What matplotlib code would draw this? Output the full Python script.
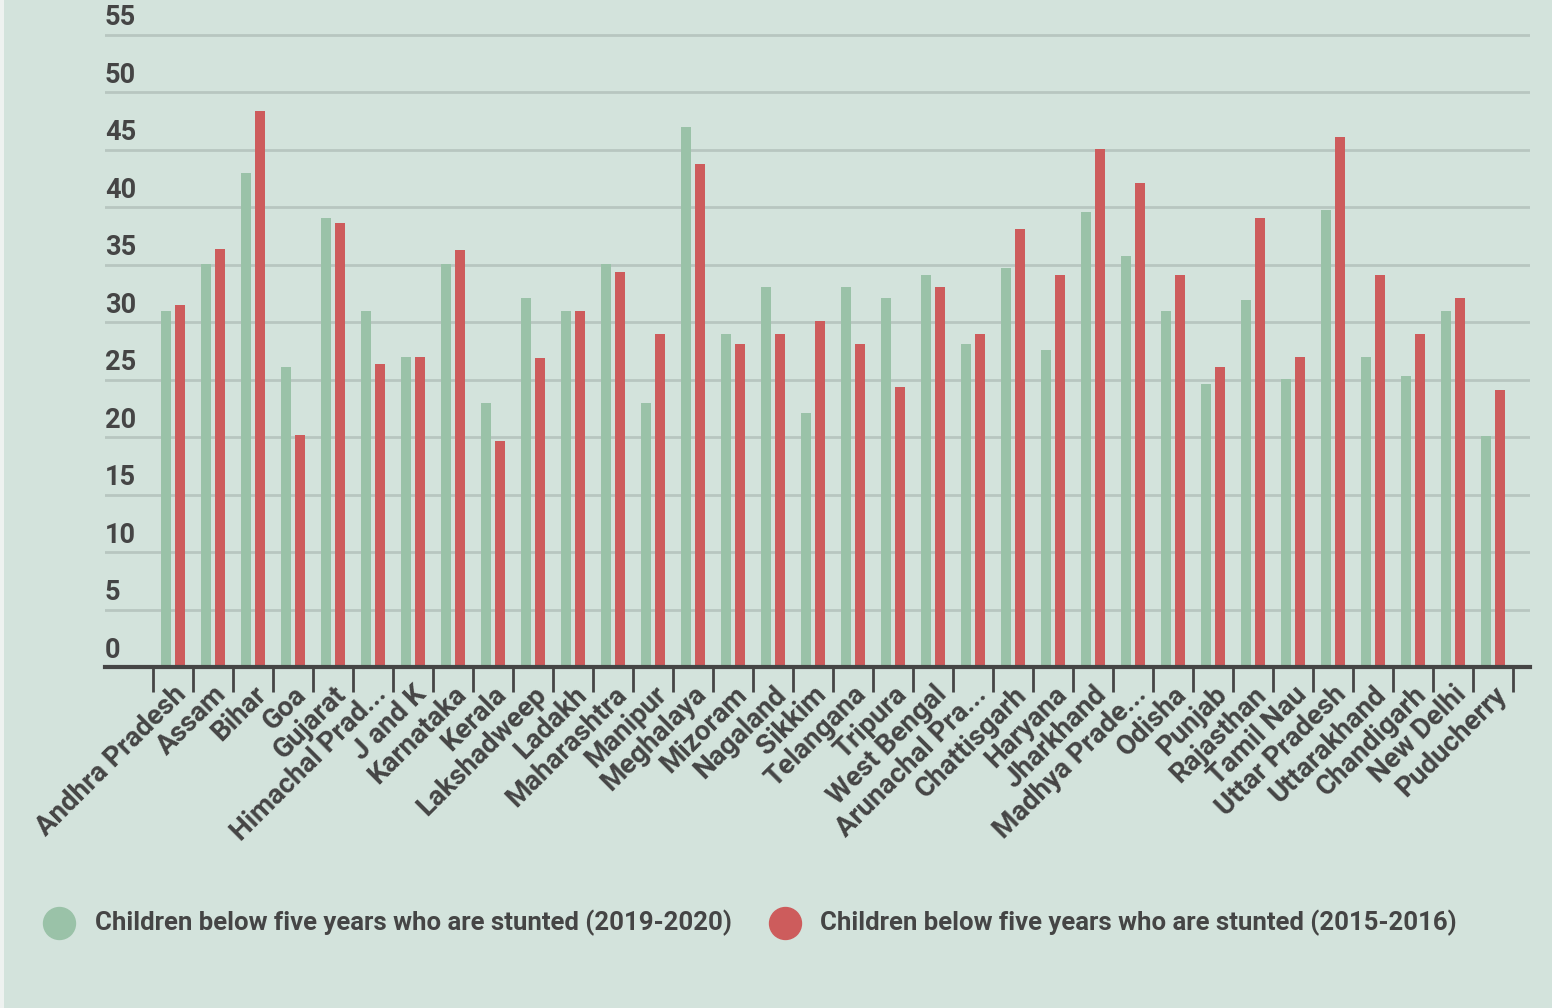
import matplotlib
matplotlib.use("Agg")
from matplotlib import pyplot as plt
from matplotlib.lines import Line2D
from matplotlib.patches import Rectangle
import numpy as np

# data
states = ["Andhra Pradesh", "Assam", "Bihar", "Goa", "Gujarat", "Himachal Prad...",
          "J and K", "Karnataka", "Kerala", "Lakshadweep", "Ladakh", "Maharashtra",
          "Manipur", "Meghalaya", "Mizoram", "Nagaland", "Sikkim", "Telangana",
          "Tripura", "West Bengal", "Arunachal Pra...", "Chattisgarh", "Haryana",
          "Jharkhand", "Madhya Prade...", "Odisha", "Punjab", "Rajasthan",
          "Tamil Nau", "Uttar Pradesh", "Uttarakhand", "Chandigarh", "New Delhi",
          "Puducherry"]
stunted_2019 = [31.0, 35.1, 43.0, 26.1, 39.1, 31.0, 27.0, 35.1, 23.0, 32.1, 31.0,
                35.1, 23.0, 47.0, 29.0, 33.1, 22.1, 33.1, 32.1, 34.1, 28.1, 34.7,
                27.6, 39.6, 35.8, 31.0, 24.6, 31.9, 25.1, 39.8, 27.0, 25.3, 31.0,
                20.1]
stunted_2015 = [31.5, 36.4, 48.4, 20.2, 38.6, 26.4, 27.0, 36.3, 19.7, 26.9, 31.0,
                34.4, 29.0, 43.8, 28.1, 29.0, 30.1, 28.1, 24.4, 33.1, 29.0, 38.1,
                34.1, 45.1, 42.1, 34.1, 26.1, 39.1, 27.0, 46.1, 34.1, 29.0, 32.1,
                24.1]
series_names = ["Children below five years who are stunted (2019-2020)",
                "Children below five years who are stunted (2015-2016)"]
yticks = [0, 5, 10, 15, 20, 25, 30, 35, 40, 45, 50, 55]

bg = "#d3e3dc"
green = "#9ac2a8"
red = "#cd5c5c"
dark = "#454545"

plt.rcParams['font.family'] = ['Roboto', 'DejaVu Sans']

fig = plt.figure(figsize=(15.52, 10.08), dpi=100, facecolor=bg)
fig.add_artist(Rectangle((0, 0), 4 / 1552, 1, transform=fig.transFigure,
                         facecolor="#eef2f0", edgecolor="none"))
ax = fig.add_axes([105 / 1552, 1 - 667 / 1008, 1425 / 1552, (667 - 23.4) / 1008])
ax.set_facecolor(bg)

x = np.arange(len(states))
w = 0.25
ax.bar(x - 0.175, stunted_2019, w, color=green, zorder=3)
ax.bar(x + 0.175, stunted_2015, w, color=red, zorder=3)

ax.set_xlim(-1.7, len(states) - 0.075)
ax.set_ylim(0, 56)

for s in ["top", "right", "left"]:
    ax.spines[s].set_visible(False)
ax.spines["bottom"].set_color(dark)
ax.spines["bottom"].set_linewidth(3)
ax.spines["bottom"].set_zorder(4)

# gridlines and y labels sitting above them
ax.set_yticks(yticks)
ax.yaxis.grid(True, color="#b8c6c0", linewidth=2, zorder=1)
ax.tick_params(axis="y", length=0, labelleft=False)
for v in yticks:
    ax.text(0, v + 0.3, str(v), transform=ax.get_yaxis_transform(), ha="left",
            va="bottom", fontsize=19.5, color=dark, fontweight="bold")

# ticks at group edges, labels at group centres
ax.set_xticks(np.arange(len(states) + 1) - 0.5)
ax.set_xticklabels([])
ax.tick_params(axis="x", which="major", length=18, width=2, color=dark)
ax.set_xticks(x, minor=True)
ax.set_xticklabels(states, minor=True, rotation=45, ha="right",
                   rotation_mode="anchor", fontsize=20, color=dark,
                   fontweight="bold")
ax.tick_params(axis="x", which="minor", length=0, pad=10)

# legend laid out by hand
legend_y = 1 - 923 / 1008
for xm, xt, c, name in [(59, 95, green, series_names[0]), (785, 820, red, series_names[1])]:
    fig.add_artist(Line2D([xm / 1552], [legend_y], transform=fig.transFigure,
                          linestyle="none", marker="o", markersize=23,
                          markerfacecolor=c, markeredgecolor=c))
    fig.text(xt / 1552, legend_y, name, ha="left", va="center", fontsize=18.5,
             color=dark, fontweight="bold")

plt.savefig("out.png", dpi=100, facecolor=bg)
